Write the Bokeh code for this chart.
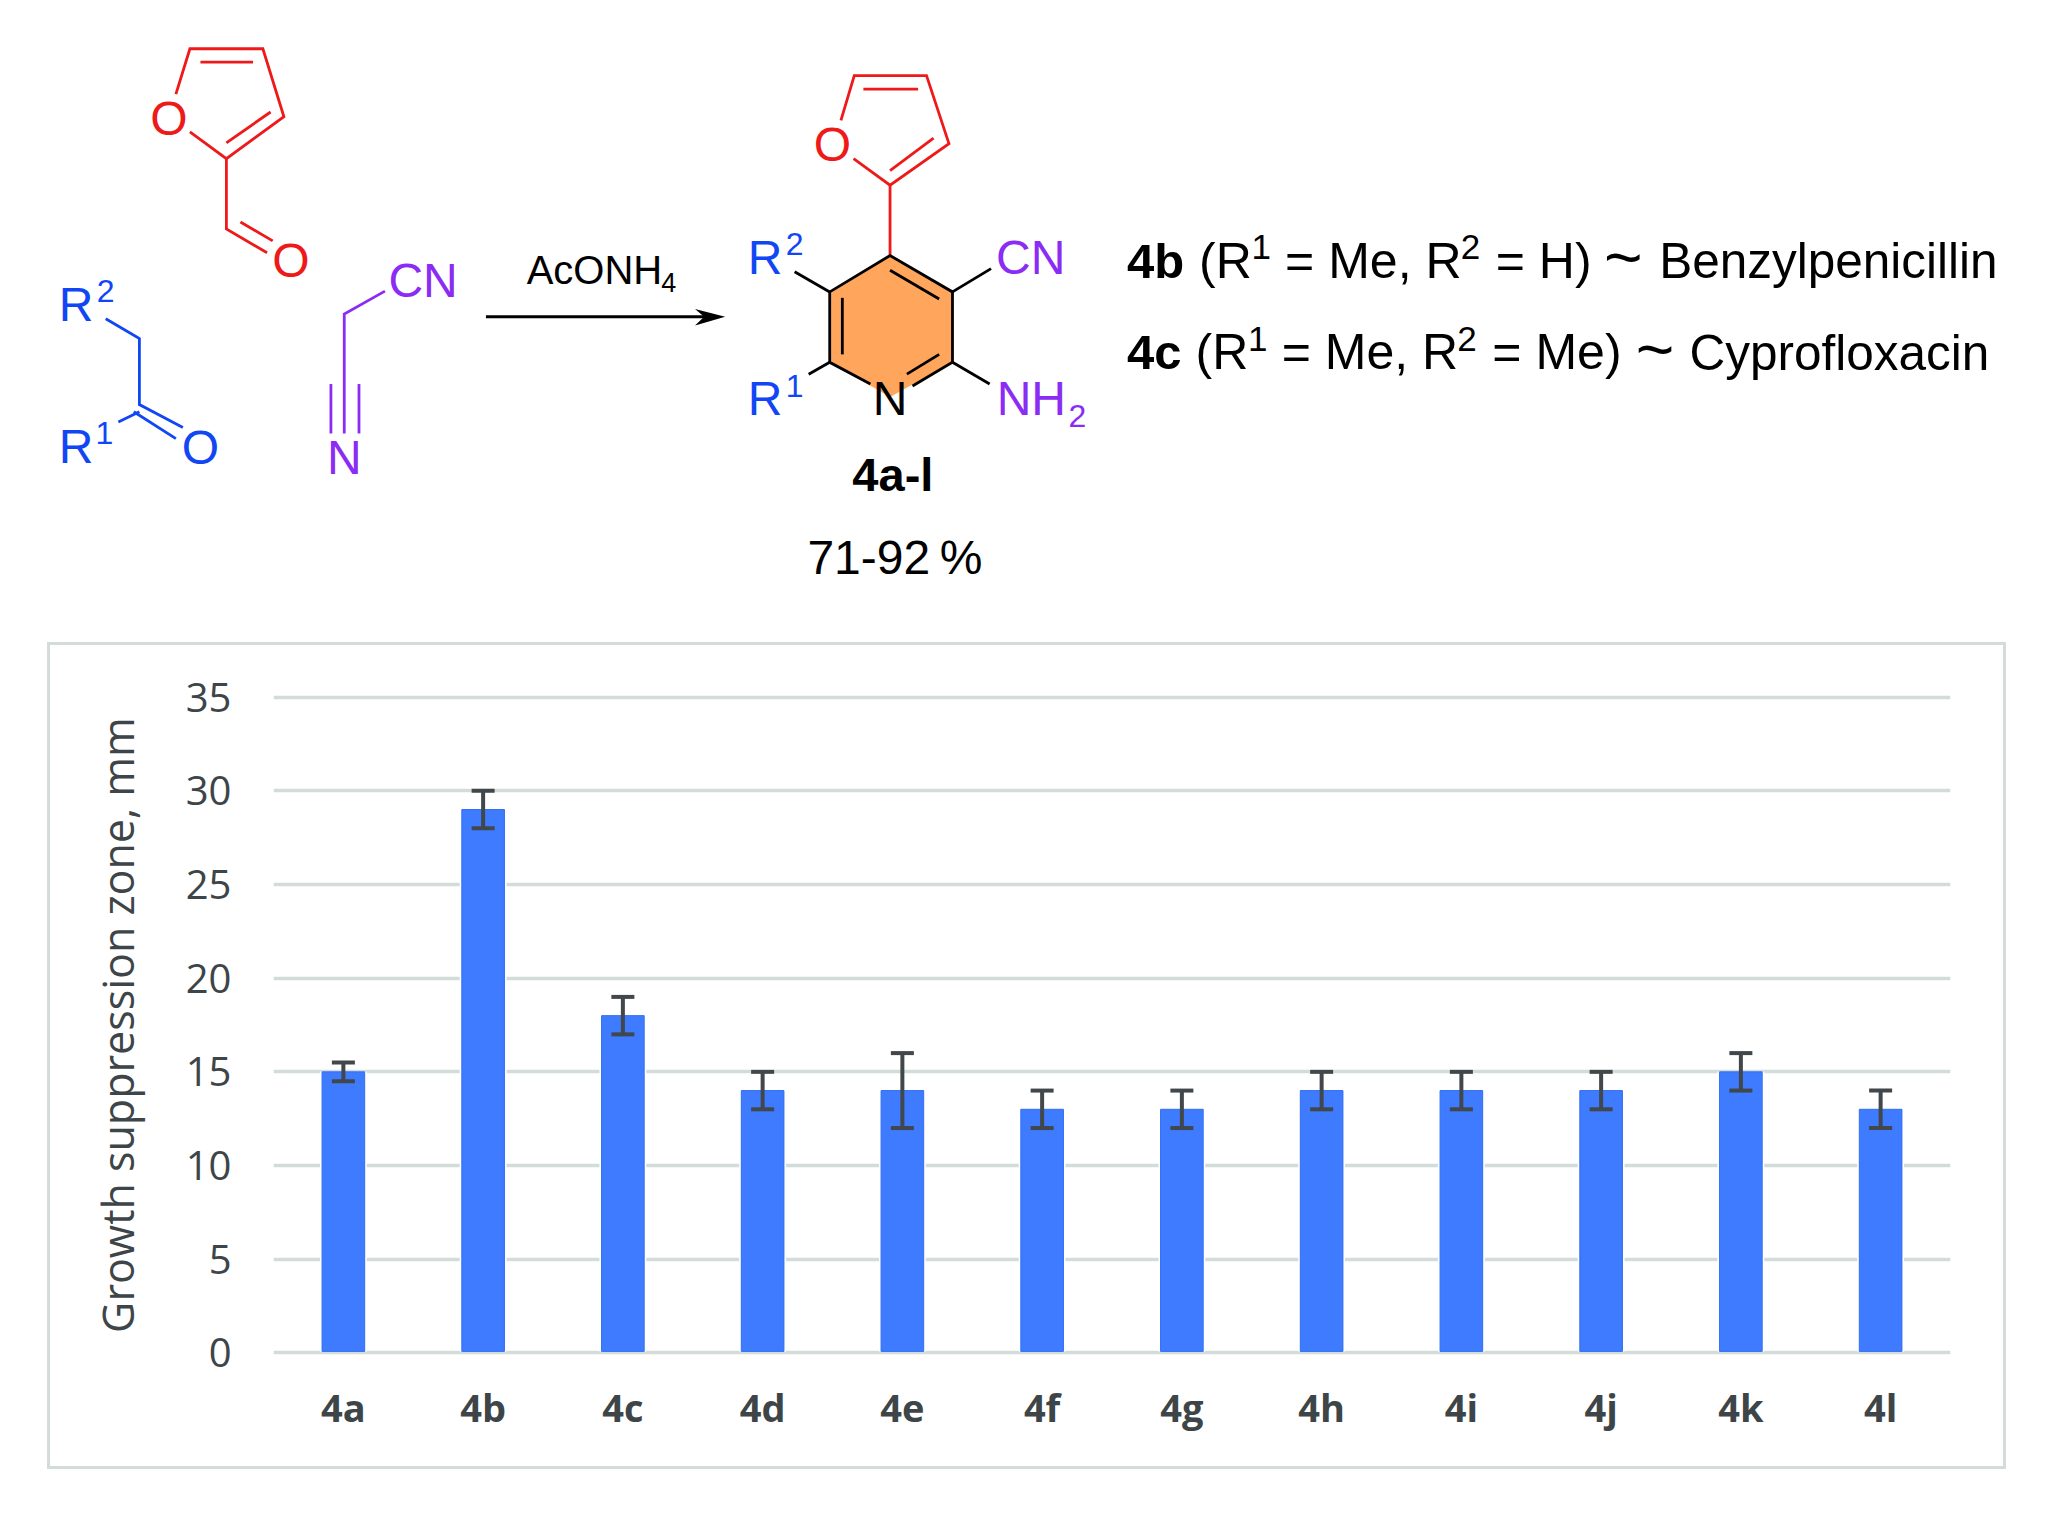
from bokeh.plotting import figure
from bokeh.models import ColumnDataSource, FactorRange, Range1d, FixedTicker, Whisker, TeeHead
from bokeh.core.properties import value
from bokeh.embed import file_html
from bokeh.resources import INLINE

# ---- chart data ----
categories = ["4a", "4b", "4c", "4d", "4e", "4f", "4g", "4h", "4i", "4j", "4k", "4l"]
zone_mm = [15, 29, 18, 14, 14, 13, 13, 14, 14, 14, 15, 13]
err_low = [14.5, 28, 17, 13, 12, 12, 12, 13, 13, 13, 14, 12]
err_high = [15.5, 30, 19, 15, 16, 14, 14, 15, 15, 15, 16, 14]
y_ticks = [0, 5, 10, 15, 20, 25, 30, 35]
y_title = "Growth suppression zone, mm"

# ---- reaction scheme drawing (traced in crop coordinates) ----
RED, BLUE, PURPLE, BLACK = "#EE1A1A", "#1146F5", "#8B2CF5", "#000000"
ORANGE = "#FFA55C"
FONT = "Liberation Sans"
SX, SY = 1568 / 1100, 1568 / 620

red_bonds = [
    [(250, 237), (270, 122), (374, 122), (404, 294), (322, 400), (270, 332)],
    [(285, 156), (360, 156)], [(385, 282), (322, 360)],
    [(322, 400), (322, 578), (380, 638)], [(342, 560), (388, 608)],
    [(1198, 303), (1217, 190), (1320, 190), (1352, 362), (1268, 467), (1216, 400)],
    [(1230, 224), (1308, 224)], [(1330, 348), (1268, 430)],
    [(1268, 467), (1268, 645)],
]
blue_bonds = [
    [(150, 805), (198, 855), (198, 1022), (260, 1080)],
    [(190, 1040), (250, 1108)], [(198, 1040), (168, 1066)],
]
purple_bonds = [
    [(548, 735), (490, 793), (490, 1095)],
    [(471, 970), (471, 1095)], [(511, 970), (511, 1095)],
]
black_bonds = [
    [(1240, 970), (1182, 915), (1182, 737), (1268, 645), (1357, 737), (1357, 915), (1300, 975)],
    [(1268, 682), (1338, 755)], [(1338, 895), (1292, 945)], [(1200, 752), (1200, 895)],
    [(1182, 737), (1132, 686)], [(1357, 737), (1412, 678)],
    [(1357, 915), (1410, 970)], [(1182, 915), (1152, 945)],
]
ring_fill = [(1268, 645), (1357, 737), (1357, 915), (1268, 1003), (1182, 915), (1182, 737)]
arrow_shaft = [(692, 800), (1003, 800)]
arrow_head = [(1033, 800), (990, 780), (1003, 800), (990, 822)]

# text, x, baseline y, size, colour, style, align  (crop coordinates)
crop_labels = [
    ("O", 414, 700, 48, RED, "normal", "center"), ("O", 240, 340, 48, RED, "normal", "center"),
    ("R", 83, 812, 48, BLUE, "normal", "left"), ("2", 150, 763, 32, BLUE, "normal", "center"),
    ("R", 83, 1170, 48, BLUE, "normal", "left"), ("1", 148, 1122, 32, BLUE, "normal", "center"),
    ("O", 285, 1172, 48, BLUE, "normal", "center"),
    ("CN", 553, 750, 48, PURPLE, "normal", "left"), ("N", 490, 1198, 48, PURPLE, "normal", "center"),
    ("AcONH", 750, 716, 40, BLACK, "normal", "left"), ("4", 942, 736, 27, BLACK, "normal", "left"),
    ("O", 1186, 407, 48, RED, "normal", "center"),
    ("R", 1065, 693, 48, BLUE, "normal", "left"), ("2", 1132, 643, 32, BLUE, "normal", "center"),
    ("CN", 1419, 692, 48, PURPLE, "normal", "left"),
    ("R", 1065, 1050, 48, BLUE, "normal", "left"), ("1", 1132, 1003, 32, BLUE, "normal", "center"),
    ("N", 1268, 1050, 48, BLACK, "normal", "center"),
    ("NH", 1420, 1050, 48, PURPLE, "normal", "left"), ("2", 1535, 1078, 32, PURPLE, "normal", "center"),
    ("4a-l", 1272, 1240, 47, BLACK, "bold", "center"),
    ("71-92\u2009%", 1275, 1452, 48, BLACK, "normal", "center"),
]
SX2, SY2, OX2, OY2 = 1568 / 1055, 773 / 260, 1000, 180
# text, x, baseline y, size, style (second crop coordinates)
side_labels = [
    ("4b", 188, 290, 49, "bold"), ("(R", 295, 290, 50, "normal"), ("1", 373, 235, 35, "normal"),
    ("= Me, R", 423, 290, 50, "normal"), ("2", 684, 235, 35, "normal"), ("= H)", 736, 290, 50, "normal"),
    ("~", 897, 297, 66, "normal"), ("Benzylpenicillin", 979, 290, 49.5, "normal"),
    ("4c", 188, 562, 49, "bold"), ("(R", 290, 562, 50, "normal"), ("1", 368, 507, 35, "normal"),
    ("= Me, R", 418, 562, 50, "normal"), ("2", 679, 507, 35, "normal"), ("= Me)", 731, 562, 50, "normal"),
    ("~", 944, 569, 66, "normal"), ("Cyprofloxacin", 1024, 562, 49.5, "normal"),
]

W = 2039
top = figure(width=W, height=630, x_range=Range1d(0, W), y_range=Range1d(630, 0),
             output_backend="svg", toolbar_location=None, x_axis_location=None, y_axis_location=None,
             min_border=0, outline_line_color=None)
top.grid.visible = False


def cx(pts):
    return [p[0] / SX for p in pts]


def cy(pts):
    return [p[1] / SY for p in pts]


top.patch(cx(ring_fill), cy(ring_fill), fill_color=ORANGE, line_color=None)
for bonds, col in ((red_bonds, RED), (blue_bonds, BLUE), (purple_bonds, PURPLE), (black_bonds, BLACK)):
    for b in bonds:
        top.line(cx(b), cy(b), line_color=col, line_width=2.8, line_join="miter")
top.line(cx(arrow_shaft), cy(arrow_shaft), line_color=BLACK, line_width=3)
top.patch(cx(arrow_head), cy(arrow_head), fill_color=BLACK, line_color=None)


def put(x, y, t, size, col, style, align):
    top.text([x], [y - 0.35 * size], text=[t], text_font=value(FONT), text_font_size=f"{size}px",
             text_color=col, text_font_style=style, text_align=align, text_baseline="alphabetic")


for t, x, y, s, c, st, al in crop_labels:
    put(x / SX, y / SY, t, s, c, st, al)
for t, x, y, s, st in side_labels:
    put(OX2 + x / SX2, OY2 + y / SY2, t, s, BLACK, st, "left")

# ---- bar chart ----
GRID = "#D2DDD9"
INK = "#3D4548"
src = ColumnDataSource(dict(cat=categories, v=zone_mm, lo=err_low, hi=err_high))
p = figure(width=1953, height=821, x_range=FactorRange(factors=categories, range_padding=0),
           y_range=Range1d(-0.3, 35.3), output_backend="svg", toolbar_location=None,
           min_border_left=223, min_border_right=53, min_border_top=46, min_border_bottom=108,
           outline_line_color=None, margin=(15, 0, 0, 50),
           styles={"outline": f"3.5px solid {GRID}"})
p.xgrid.visible = False
p.ygrid.ticker = FixedTicker(ticks=y_ticks)
p.ygrid.grid_line_color = GRID
p.ygrid.grid_line_width = 3.5

p.yaxis.ticker = FixedTicker(ticks=y_ticks)
p.yaxis.axis_line_color = None
p.yaxis.major_tick_line_color = None
p.yaxis.minor_tick_line_color = None
p.yaxis.major_label_text_font = "Open Sans"
p.yaxis.major_label_text_font_size = "40px"
p.yaxis.major_label_text_color = INK
p.yaxis.major_label_standoff = 36
p.yaxis.axis_label = y_title
p.yaxis.axis_label_text_font = "Open Sans"
p.yaxis.axis_label_text_font_size = "43px"
p.yaxis.axis_label_text_font_style = "normal"
p.yaxis.axis_label_text_color = INK
p.yaxis.axis_label_standoff = 36

p.xaxis.axis_line_color = None
p.xaxis.major_tick_line_color = None
p.xaxis.major_label_text_font = "Open Sans"
p.xaxis.major_label_text_font_size = "38px"
p.xaxis.major_label_text_font_style = "bold"
p.xaxis.major_label_text_color = INK
p.xaxis.major_label_standoff = 16

p.vbar(x="cat", top="v", width=0.335, bottom=0.08, source=src, fill_color="white", line_color=None)
p.vbar(x="cat", top="v", width=0.305, bottom=0.08, source=src, fill_color="#3F7BFF", line_color="#2F6EF5",
       line_width=1)
w = Whisker(source=src, base="cat", lower="lo", upper="hi", line_color="#41474A", line_width=4,
            level="overlay",
            upper_head=TeeHead(size=23, line_color="#41474A", line_width=4),
            lower_head=TeeHead(size=23, line_color="#41474A", line_width=4))
p.add_layout(w)

open("out.html", "w").write(file_html((top, p), INLINE))
